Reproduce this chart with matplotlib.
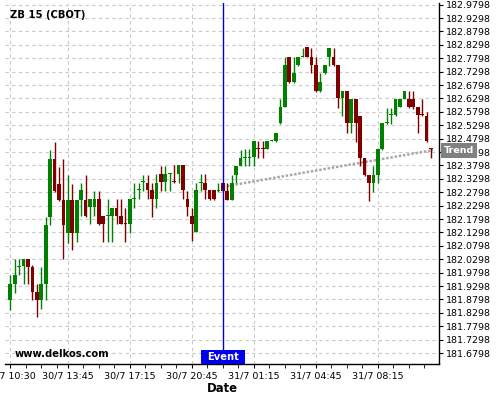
import matplotlib
matplotlib.use('Agg')
import matplotlib.pyplot as plt
import matplotlib.transforms as mtrans
from matplotlib.patches import Rectangle
import numpy as np

title = "ZB 15 (CBOT)"
watermark = "www.delkos.com"

opens = [181.876, 181.938, 182.002, 182.005, 182.029, 182.002, 181.909, 181.876, 181.938, 182.186,
         182.405, 182.312, 182.250, 182.129, 182.250, 182.129, 182.250, 182.250, 182.225, 182.225,
         182.253, 182.191, 182.191, 182.191, 182.222, 182.191, 182.166, 182.162, 182.253, 182.287,
         182.318, 182.315, 182.287, 182.253, 182.347, 182.319, 182.348, 182.320, 182.349, 182.380,
         182.253, 182.191, 182.133, 182.315, 182.315, 182.287, 182.287, 182.284, 182.313, 182.284,
         182.251, 182.344, 182.377, 182.406, 182.406, 182.410, 182.444, 182.444, 182.440, 182.471,
         182.471, 182.537, 182.599, 182.785, 182.692, 182.754, 182.785, 182.820, 182.785, 182.754,
         182.659, 182.723, 182.785, 182.785, 182.754, 182.630, 182.657, 182.537, 182.627, 182.564,
         182.408, 182.344, 182.315, 182.344, 182.440, 182.537, 182.568, 182.568, 182.599, 182.627,
         182.627, 182.627, 182.597, 182.571, 182.564, 182.444]
highs = [181.971, 182.029, 182.029, 182.029, 182.032, 182.008, 181.938, 182.002, 182.186, 182.439,
         182.467, 182.374, 182.405, 182.343, 182.312, 182.250, 182.315, 182.345, 182.253, 182.284,
         182.284, 182.191, 182.253, 182.222, 182.253, 182.253, 182.222, 182.253, 182.315, 182.315,
         182.345, 182.345, 182.315, 182.347, 182.378, 182.378, 182.350, 182.380, 182.380, 182.380,
         182.284, 182.222, 182.315, 182.347, 182.347, 182.287, 182.287, 182.313, 182.313, 182.313,
         182.344, 182.377, 182.437, 182.440, 182.440, 182.471, 182.471, 182.471, 182.471, 182.474,
         182.502, 182.626, 182.785, 182.785, 182.785, 182.785, 182.817, 182.820, 182.817, 182.785,
         182.723, 182.754, 182.817, 182.817, 182.754, 182.657, 182.657, 182.627, 182.627, 182.564,
         182.408, 182.344, 182.377, 182.440, 182.537, 182.595, 182.595, 182.627, 182.627, 182.657,
         182.657, 182.657, 182.597, 182.627, 182.580, 182.444]
lows = [181.841, 181.905, 181.971, 181.938, 181.938, 181.876, 181.814, 181.843, 181.876, 182.157,
        182.281, 182.248, 182.029, 182.092, 182.064, 182.094, 182.191, 182.187, 182.160, 182.191,
        182.156, 182.095, 182.095, 182.095, 182.160, 182.160, 182.095, 182.129, 182.222, 182.253,
        182.284, 182.253, 182.187, 182.222, 182.284, 182.284, 182.284, 182.315, 182.315, 182.253,
        182.191, 182.098, 182.130, 182.284, 182.253, 182.249, 182.249, 182.281, 182.281, 182.251,
        182.251, 182.313, 182.377, 182.377, 182.377, 182.377, 182.406, 182.406, 182.440, 182.471,
        182.468, 182.534, 182.597, 182.688, 182.688, 182.751, 182.785, 182.785, 182.723, 182.655,
        182.655, 182.720, 182.751, 182.751, 182.595, 182.564, 182.500, 182.500, 182.468, 182.377,
        182.341, 182.248, 182.282, 182.313, 182.436, 182.534, 182.534, 182.565, 182.599, 182.627,
        182.595, 182.592, 182.500, 182.565, 182.468, 182.406]
closes = [181.938, 181.971, 182.005, 182.029, 182.002, 181.909, 181.876, 181.938, 182.157, 182.405,
          182.284, 182.250, 182.157, 182.250, 182.129, 182.250, 182.287, 182.191, 182.253, 182.253,
          182.162, 182.160, 182.195, 182.222, 182.191, 182.162, 182.162, 182.253, 182.257, 182.289,
          182.320, 182.287, 182.253, 182.315, 182.319, 182.347, 182.350, 182.318, 182.380, 182.287,
          182.225, 182.162, 182.287, 182.318, 182.287, 182.253, 182.253, 182.287, 182.284, 182.251,
          182.313, 182.377, 182.406, 182.410, 182.410, 182.471, 182.440, 182.440, 182.471, 182.474,
          182.502, 182.599, 182.754, 182.692, 182.723, 182.785, 182.788, 182.785, 182.754, 182.659,
          182.692, 182.754, 182.817, 182.754, 182.630, 182.657, 182.537, 182.627, 182.537, 182.408,
          182.344, 182.315, 182.344, 182.440, 182.537, 182.540, 182.571, 182.627, 182.627, 182.657,
          182.599, 182.599, 182.568, 182.568, 182.472, 182.440]

tick_idx = [0, 13, 27, 41, 55, 69, 83]
tick_labels = ["30/7 10:30", "30/7 13:45", "30/7 17:15", "30/7 20:45",
               "31/7 01:15", "31/7 04:45", "31/7 08:15"]
ytick_vals = [181.6798 + 0.05 * k for k in range(27)]

event_idx = 48
event_label = "Event"
trend_x = [48, 95.5]
trend_y = [182.300, 182.437]
trend_label = "Trend"

GREEN = '#008000'
RED = '#800000'

fig = plt.figure(figsize=(5, 4), dpi=100)
ax = fig.add_axes([0.01, 0.09, 0.868, 0.9025])
ax.set_xlim(-1.2, 96.8)
ax.set_ylim(181.6388, 182.9858)

# grid
ax.set_xticks(tick_idx)
ax.set_xticklabels(tick_labels)
minor = []
for m in tick_idx:
    for d in (3.5, 7, 10.5):
        if m + d < 96.8:
            minor.append(m + d)
ax.set_xticks(minor, minor=True)
ax.set_yticks(ytick_vals)
ax.set_yticklabels(["%.4f" % v for v in ytick_vals])
ax.grid(True, which='major', color='#c8c8c8', linestyle=(0, (3, 3)), linewidth=0.8)
ax.set_axisbelow(True)

# trend line
ax.plot(trend_x, trend_y, color='#a8a8a8', linewidth=1.8, linestyle=(0, (1, 0.7)), zorder=2)

# candles
x = np.arange(len(opens))
o = np.array(opens); c = np.array(closes); h = np.array(highs); l = np.array(lows)
cols = [GREEN if cc >= oo else RED for oo, cc in zip(o, c)]
ax.vlines(x, l, h, colors=cols, linewidth=1.0, zorder=3)
bottoms = np.minimum(o, c)
heights = np.maximum(np.abs(c - o), 0.0035)
ax.bar(x, heights, bottom=bottoms, width=0.85, color=cols, linewidth=0, zorder=4)

# event line
ax.axvline(event_idx, color='#0000cc', linewidth=1.0, zorder=5)
xt = ax.get_xaxis_transform()
ax.add_patch(Rectangle((event_idx - 5, 0), 10, 0.04, transform=xt, facecolor='#0000ee',
                       edgecolor='none', zorder=6, clip_on=False))
ax.text(event_idx, 0.02, event_label, transform=xt, ha='center', va='center', color='white',
        fontsize=7.2, fontweight='bold', zorder=7)

# trend label
bt = mtrans.blended_transform_factory(ax.transAxes, ax.transData)
ax.add_patch(Rectangle((1.0046, trend_y[1] - 0.028), 0.083, 0.056, transform=bt,
                       facecolor='#808080', edgecolor='none', zorder=6, clip_on=False))
ax.text(1.046, trend_y[1], trend_label, transform=bt, ha='center', va='center', color='white',
        fontsize=6.8, fontweight='bold', zorder=7, clip_on=False)

# texts
ax.text(0.0115, 0.967, title, transform=ax.transAxes, ha='left', va='center',
        fontsize=7.2, fontweight='bold', color='black')
ax.text(0.023, 0.029, watermark, transform=ax.transAxes, ha='left', va='center',
        fontsize=7.2, fontweight='bold', color='black')
fig.text(0.444, 0.0275, "Date", ha='center', va='center', fontsize=8.4, fontweight='bold')

# axes style
ax.yaxis.tick_right()
ax.tick_params(axis='y', which='major', labelsize=6.8, length=3, pad=2.2, direction='out')
ax.tick_params(axis='x', which='both', labelsize=6.8, length=3, pad=2.5, direction='out')
for s in ('top', 'left'):
    ax.spines[s].set_visible(False)
for s in ('right', 'bottom'):
    ax.spines[s].set_color('black')
    ax.spines[s].set_linewidth(1.0)

fig.savefig('out.png', dpi=100, facecolor='white')
